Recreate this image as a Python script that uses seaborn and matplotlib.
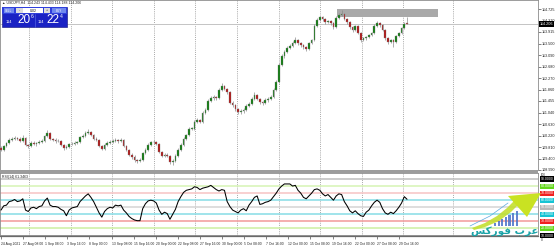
import numpy as np
import pandas as pd
import matplotlib
matplotlib.use("Agg")
import matplotlib.pyplot as plt
import matplotlib.transforms as mtransforms
from matplotlib.patches import Rectangle, Polygon
import seaborn as sns

# ---------------- data (USDJPY H4) ----------------
opens = [109.78, 109.71, 109.85, 109.96, 110.07, 110.10, 110.14, 110.10, 110.03, 110.14,
         109.89, 109.85, 109.96, 109.92, 109.96, 109.99, 110.03, 110.21, 110.32, 110.10,
         110.07, 110.03, 110.03, 109.89, 109.78, 109.82, 109.92, 109.92, 109.96, 109.99,
         110.17, 110.21, 110.32, 110.35, 110.24, 110.10, 110.07, 109.85, 109.75, 109.89,
         109.96, 109.99, 110.03, 110.07, 110.03, 110.07, 109.85, 109.71, 109.53, 109.46,
         109.35, 109.32, 109.35, 109.60, 109.71, 109.89, 109.99, 109.99, 109.92, 109.64,
         109.50, 109.53, 109.50, 109.28, 109.32, 109.50, 109.71, 109.89, 110.10, 110.24,
         110.46, 110.46, 110.71, 110.78, 110.71, 111.03, 111.14, 111.46, 111.56, 111.60,
         111.56, 111.85, 111.99, 111.88, 111.78, 111.39, 111.31, 111.17, 111.06, 111.10,
         111.14, 111.28, 111.35, 111.53, 111.67, 111.53, 111.42, 111.39, 111.49, 111.53,
         111.60, 111.85, 112.13, 112.74, 113.06, 113.20, 113.35, 113.42, 113.52, 113.63,
         113.52, 113.45, 113.38, 113.31, 113.52, 113.63, 114.13, 114.34, 114.45, 114.38,
         114.27, 114.31, 114.24, 114.09, 114.42, 114.52, 114.56, 114.38, 114.27, 114.09,
         113.99, 114.13, 113.88, 113.63, 113.70, 113.74, 113.81, 113.88, 114.13, 114.24,
         114.17, 113.99, 113.70, 113.56, 113.63, 113.56, 113.77, 113.88, 114.06, 114.243]
closes = [109.71, 109.85, 109.96, 110.07, 110.10, 110.14, 110.10, 110.03, 110.14, 109.89,
          109.85, 109.96, 109.92, 109.96, 109.99, 110.03, 110.21, 110.32, 110.10, 110.07,
          110.03, 110.03, 109.89, 109.78, 109.82, 109.92, 109.92, 109.96, 109.99, 110.17,
          110.21, 110.32, 110.35, 110.24, 110.10, 110.07, 109.85, 109.75, 109.89, 109.96,
          109.99, 110.03, 110.07, 110.03, 110.07, 109.85, 109.71, 109.53, 109.46, 109.35,
          109.32, 109.35, 109.60, 109.71, 109.89, 109.99, 109.99, 109.92, 109.64, 109.50,
          109.53, 109.50, 109.28, 109.32, 109.50, 109.71, 109.89, 110.10, 110.24, 110.46,
          110.46, 110.71, 110.78, 110.71, 111.03, 111.14, 111.46, 111.56, 111.60, 111.56,
          111.85, 111.99, 111.88, 111.78, 111.39, 111.31, 111.17, 111.06, 111.10, 111.14,
          111.28, 111.35, 111.53, 111.67, 111.53, 111.42, 111.39, 111.49, 111.53, 111.60,
          111.85, 112.13, 112.74, 113.06, 113.20, 113.35, 113.42, 113.52, 113.63, 113.52,
          113.45, 113.38, 113.31, 113.52, 113.63, 114.13, 114.34, 114.45, 114.38, 114.27,
          114.31, 114.24, 114.09, 114.42, 114.52, 114.56, 114.38, 114.27, 114.09, 113.99,
          114.13, 113.88, 113.63, 113.70, 113.74, 113.81, 113.88, 114.13, 114.24, 114.17,
          113.99, 113.70, 113.56, 113.63, 113.56, 113.77, 113.88, 114.06, 114.20, 114.206]
highs = [109.84, 109.90, 110.00, 110.12, 110.16, 110.20, 110.18, 110.15, 110.24, 110.17,
         109.93, 110.01, 110.02, 110.00, 110.05, 110.08, 110.25, 110.42, 110.36, 110.14,
         110.12, 110.08, 110.06, 109.93, 109.88, 109.97, 109.98, 110.01, 110.04, 110.22,
         110.26, 110.38, 110.45, 110.39, 110.28, 110.16, 110.11, 109.89, 109.94, 110.01,
         110.05, 110.08, 110.13, 110.11, 110.14, 110.10, 109.89, 109.75, 109.58, 109.51,
         109.40, 109.41, 109.65, 109.76, 109.94, 110.04, 110.05, 110.03, 109.96, 109.68,
         109.59, 109.58, 109.54, 109.37, 109.55, 109.76, 109.94, 110.15, 110.29, 110.51,
         110.53, 110.76, 110.84, 110.82, 111.08, 111.19, 111.51, 111.62, 111.66, 111.64,
         111.90, 112.08, 112.03, 111.92, 111.82, 111.44, 111.35, 111.21, 111.15, 111.19,
         111.33, 111.40, 111.58, 111.76, 111.71, 111.57, 111.47, 111.55, 111.58, 111.66,
         111.90, 112.19, 112.80, 113.12, 113.26, 113.40, 113.48, 113.58, 113.72, 113.67,
         113.56, 113.50, 113.43, 113.57, 113.68, 114.19, 114.40, 114.50, 114.49, 114.42,
         114.36, 114.35, 114.28, 114.47, 114.58, 114.70, 114.60, 114.42, 114.31, 114.13,
         114.18, 114.17, 113.92, 113.75, 113.79, 113.86, 113.93, 114.19, 114.31, 114.28,
         114.21, 114.03, 113.74, 113.68, 113.67, 113.82, 113.93, 114.11, 114.26, 114.433]
lows = [109.66, 109.68, 109.81, 109.92, 110.02, 110.05, 110.05, 109.98, 110.00, 109.85,
        109.78, 109.80, 109.87, 109.86, 109.92, 109.95, 110.00, 110.17, 110.05, 110.02,
        109.97, 109.98, 109.84, 109.72, 109.74, 109.78, 109.87, 109.88, 109.91, 109.95,
        110.12, 110.17, 110.27, 110.19, 110.05, 110.01, 109.80, 109.69, 109.71, 109.84,
        109.91, 109.94, 109.98, 109.97, 109.99, 109.80, 109.66, 109.48, 109.40, 109.29,
        109.24, 109.26, 109.31, 109.55, 109.67, 109.84, 109.93, 109.87, 109.59, 109.44,
        109.45, 109.44, 109.22, 109.18, 109.27, 109.46, 109.66, 109.85, 110.05, 110.20,
        110.40, 110.42, 110.66, 110.65, 110.67, 110.98, 111.10, 111.41, 111.50, 111.50,
        111.52, 111.80, 111.83, 111.72, 111.34, 111.25, 111.11, 110.99, 110.98, 111.04,
        111.09, 111.23, 111.31, 111.48, 111.48, 111.36, 111.30, 111.33, 111.43, 111.48,
        111.55, 111.80, 112.08, 112.70, 113.00, 113.15, 113.30, 113.37, 113.47, 113.46,
        113.39, 113.32, 113.24, 113.27, 113.47, 113.58, 114.08, 114.29, 114.32, 114.21,
        114.22, 114.18, 114.03, 114.05, 114.37, 114.47, 114.33, 114.21, 114.03, 113.93,
        113.94, 113.83, 113.57, 113.58, 113.64, 113.69, 113.76, 113.84, 114.08, 114.11,
        113.94, 113.64, 113.50, 113.51, 113.37, 113.51, 113.72, 113.83, 114.01, 114.188]
rsi = [46, 52, 53, 58, 59, 61, 58, 59, 62, 46,
       44, 49, 50, 48, 51, 52, 59, 63, 53, 51,
       51, 50, 47, 45, 38, 46, 49, 50, 51, 58,
       62, 66, 69, 64, 58, 50, 42, 36, 44, 48,
       50, 49, 53, 52, 53, 46, 42, 37, 34, 32,
       31, 31, 48, 55, 59, 60, 59, 56, 46, 40,
       43, 41, 33, 40, 47, 58, 65, 71, 74, 75,
       76, 79, 78, 75, 77, 78, 79, 81, 78, 75,
       73, 75, 74, 58, 51, 46, 44, 42, 46, 48,
       45, 53, 58, 64, 66, 54, 55, 57, 58, 60,
       65, 70, 76, 80, 83, 83, 83, 80, 81, 74,
       70, 64, 62, 66, 70, 75, 76, 74, 69, 66,
       68, 64, 60, 66, 69, 68, 58, 52, 45, 42,
       45, 41, 38, 37, 43, 46, 52, 57, 60, 57,
       48, 42, 40, 43, 41, 45, 50, 56, 65, 61.35]

price_ticks = [114.725, 114.310, 113.915, 113.500, 113.090, 112.680, 112.270, 111.860,
               111.455, 111.040, 110.630, 110.220, 109.810, 109.400, 108.990]
time_labels = ["24 Aug 2021", "27 Aug 08:00", "1 Sep 08:00", "3 Sep 16:00", "8 Sep 00:00",
               "13 Sep 08:00", "15 Sep 16:00", "20 Sep 00:00", "22 Sep 08:00", "27 Sep 16:00",
               "30 Sep 00:00", "5 Oct 08:00", "7 Oct 16:00", "12 Oct 00:00", "15 Oct 08:00",
               "19 Oct 16:00", "22 Oct 00:00", "27 Oct 08:00", "29 Oct 16:00"]
rsi_levels = [90, 80, 70, 60, 50, 40, 30, 20, 10]
bid_price = 114.206
zone_low, zone_high = 114.45, 114.725
zone_start_bar, zone_end_bar = 123.3, 160.4
title_text = "\u25b2 USDJPY,H4  114.243 114.433 114.188 114.206"
rsi_title = "RSI(14) 61.3463"
sell_price = ("114", "20", "6")
buy_price = ("114", "22", "4")
lot_text = "0.02"
logo_text = "\uFEB2\uFEDB\uFEAD\uFEEE\uFED3 \uFE8F\uFEAE\uFECB"   # عرب فوركس (visual order)

# ---------------- style ----------------
sns.set_theme(style="white")
plt.rcParams["font.family"] = ["Liberation Sans", "DejaVu Sans"]

W, H = 557, 250
fig = plt.figure(figsize=(W / 100, H / 100), dpi=100)
fig.patch.set_facecolor("white")


def rect(x0, y0, x1, y1):
    return [x0 / W, 1 - y1 / H, (x1 - x0) / W, (y1 - y0) / H]


PX_BAR = 2.725
X0 = 1.0
AX_RIGHT = 538
xlim = ((0 - X0) / PX_BAR, (AX_RIGHT - X0) / PX_BAR)
grid_x = [(29 + 41.6 * k - X0) / PX_BAR for k in range(10)] + [(453 - X0) / PX_BAR]

df = pd.DataFrame({"bar": np.arange(len(closes)), "open": opens, "high": highs,
                   "low": lows, "close": closes, "rsi": rsi})

# ---------------- main price panel ----------------
ax = fig.add_axes(rect(0, 0, AX_RIGHT, 170))
ax.set_facecolor("white")
ax.set_xlim(xlim)
ax.set_ylim(108.996, 115.057)

for gx in grid_x:
    ax.axvline(gx, color="#8a8a8a", lw=0.55, ls=(0, (1.2, 1.6)), zorder=0)
ax.axhline(bid_price, color="#c4c4c4", lw=0.7, zorder=1)
ax.add_patch(Rectangle((zone_start_bar, zone_low), zone_end_bar - zone_start_bar,
                       zone_high - zone_low, facecolor="#a9a9a9", edgecolor="none", zorder=1))

up = df["close"] >= df["open"]
body_col = np.where(up, "#0a7a0a", "#b01010")
ax.vlines(df["bar"], df["low"], df["high"], color="#8c8c8c", lw=0.5, zorder=2)
body_h = np.maximum((df["close"] - df["open"]).abs(), 0.012)
ax.bar(df["bar"], body_h, bottom=np.minimum(df["open"], df["close"]), width=0.62,
       color=body_col, edgecolor="#858585", linewidth=0.25, zorder=3)

ax.yaxis.tick_right()
ax.set_yticks(price_ticks)
ax.set_yticklabels([f"{v:.3f}" for v in price_ticks])
ax.tick_params(axis="y", which="both", right=True, labelsize=2.7, length=1.8, width=0.4,
               pad=1.0, colors="#222222")
ax.set_xticks([])
for s in ["left", "top", "right"]:
    ax.spines[s].set_color("#8c8c8c")
    ax.spines[s].set_linewidth(0.6)
ax.spines["bottom"].set_visible(False)

tr = mtransforms.blended_transform_factory(ax.transAxes, ax.transData)
ax.text(1.004, bid_price, f"{bid_price:.3f}", transform=tr, fontsize=2.7, color="white",
        va="center", ha="left", zorder=10,
        bbox=dict(boxstyle="square,pad=0.2", fc="black", ec="none"))

# separator between panels
fig.patches.append(Rectangle((0, 1 - 172.6 / H), AX_RIGHT / W, 2.6 / H,
                             transform=fig.transFigure, facecolor="#9c9c9c",
                             edgecolor="none"))

# ---------------- RSI panel ----------------
rax = fig.add_axes(rect(0, 173, AX_RIGHT, 236))
rax.set_facecolor("white")
rax.set_xlim(xlim)
rax.set_ylim(9.3, 98.5)
for gx in grid_x:
    rax.axvline(gx, color="#8a8a8a", lw=0.55, ls=(0, (1.2, 1.6)), zorder=0)

level_line = {90: "#bdbdbd", 80: "#d6f4b4", 70: "#f7c4c4", 60: "#86dde6", 50: "#d4d4d4",
              40: "#86dde6", 30: "#f29a9a", 20: "#cdf0a2", 10: "#7c7c7c"}
level_box = {90: "#000000", 80: "#62d81a", 70: "#f02020", 60: "#16c4d4", 50: "#b8b8b8",
             40: "#16c4d4", 30: "#f02020", 20: "#62d81a", 10: "#000000"}
for lv in rsi_levels:
    rax.axhline(lv, color=level_line[lv], lw=1.1, zorder=1)

sns.lineplot(data=df, x="bar", y="rsi", ax=rax, color="black", lw=0.75, zorder=4)
rax.set_xlabel("")
rax.set_ylabel("")

rtr = mtransforms.blended_transform_factory(rax.transAxes, rax.transData)
for lv in rsi_levels:
    rax.text(1.005, lv, f"{lv:.4f}", transform=rtr, fontsize=2.5, color="white",
             va="center", ha="left", zorder=10,
             bbox=dict(boxstyle="square,pad=0.15", fc=level_box[lv], ec="none"))
rax.set_yticks([])
rax.text(0.004, 0.97, rsi_title, transform=rax.transAxes, fontsize=2.5, va="top",
         ha="left", color="#222222")

tick_pos = [(1 + 22.1 * k - X0) / PX_BAR for k in range(len(time_labels))]
rax.set_xticks(tick_pos)
rax.set_xticklabels(time_labels, ha="left")
rax.tick_params(axis="x", which="both", bottom=True, labelsize=2.4, length=2.5,
                width=0.4, pad=1.5, colors="#222222")
for s in ["left", "top", "right"]:
    rax.spines[s].set_color("#8c8c8c")
    rax.spines[s].set_linewidth(0.6)
rax.spines["bottom"].set_color("#6a6a6a")
rax.spines["bottom"].set_linewidth(0.9)

# ---------------- overlay: title, trade panel, logo ----------------
ov = fig.add_axes([0, 0, 1, 1], zorder=20)
ov.set_xlim(0, W)
ov.set_ylim(H, 0)
ov.axis("off")
ov.patch.set_alpha(0)

ov.text(2, 2.9, title_text, fontsize=2.5, va="center", ha="left", color="#222222")
ov.text(541, 174.6, "100", fontsize=2.1, va="center", ha="left", color="#222222")
ov.text(541, 240, "0", fontsize=2.3, va="center", ha="left", color="#222222")

# one-click trading panel
ov.add_patch(Rectangle((2, 7), 65, 19.5, facecolor="#1a22c4", edgecolor="#0d0d7a", lw=0.4))
ov.add_patch(Rectangle((2, 7), 65, 6.5, facecolor="#2f3fdc", edgecolor="none"))
ov.add_patch(Rectangle((3.5, 8), 10.5, 4.8, facecolor="#7088ee", edgecolor="none"))
ov.text(8.7, 10.5, "SELL", fontsize=2.2, color="white", ha="center", va="center")
ov.add_patch(Rectangle((16, 8), 6.5, 4.8, facecolor="#dcdcdc", edgecolor="none"))
ov.text(19.2, 10.4, "-", fontsize=2.6, color="#333333", ha="center", va="center")
ov.add_patch(Rectangle((23, 8), 20, 4.8, facecolor="white", edgecolor="none"))
ov.text(33, 10.5, lot_text, fontsize=2.5, color="#111111", ha="center", va="center")
ov.add_patch(Rectangle((43.5, 8), 6.5, 4.8, facecolor="#dcdcdc", edgecolor="none"))
ov.text(46.7, 10.4, "+", fontsize=2.6, color="#333333", ha="center", va="center")
ov.add_patch(Rectangle((52, 8), 13.5, 4.8, facecolor="#7088ee", edgecolor="none"))
ov.text(58.7, 10.5, "BUY", fontsize=2.2, color="white", ha="center", va="center")
ov.plot([34.5, 34.5], [13.5, 26.5], color="#6070e8", lw=0.4)
for x_small, x_big, x_sup, vals in [(6.0, 17.0, 31.0, sell_price), (37.5, 46.0, 60.0, buy_price)]:
    ov.text(x_small, 22.3, vals[0], fontsize=2.8, color="white", ha="left", va="center")
    ov.text(x_big, 20.4, vals[1], fontsize=8.5, color="white", ha="left", va="center")
    ov.text(x_sup, 16.8, vals[2], fontsize=3.6, color="white", ha="left", va="center")

# Arab Forex logo watermark
ov.add_patch(Polygon([(472, 228), (485, 223), (497, 216), (507, 208), (514, 201),
                      (520, 203), (511, 212), (499, 221), (485, 227), (474, 230)],
                     closed=True, facecolor="#c3df30", edgecolor="none", alpha=0.9))
ov.add_patch(Polygon([(508, 196), (541, 193), (527, 217)], closed=True,
                     facecolor="#c9e222", edgecolor="none"))
ov.plot([470, 490, 508], [226, 216, 203], color="#5aa8e0", lw=0.5)
for i, hgt in enumerate([3, 5, 7, 9, 11, 13, 15]):
    ov.add_patch(Rectangle((494 + i * 3.6, 226 - hgt), 2.2, hgt, facecolor="#4a72c8",
                           edgecolor="none", alpha=0.85))
ov.text(505, 230.5, logo_text, fontsize=7.5, color="#1aa3a8", ha="center", va="center",
        family=["DejaVu Sans"], fontweight="bold")

fig.savefig("out.png", dpi=100, facecolor="white")
